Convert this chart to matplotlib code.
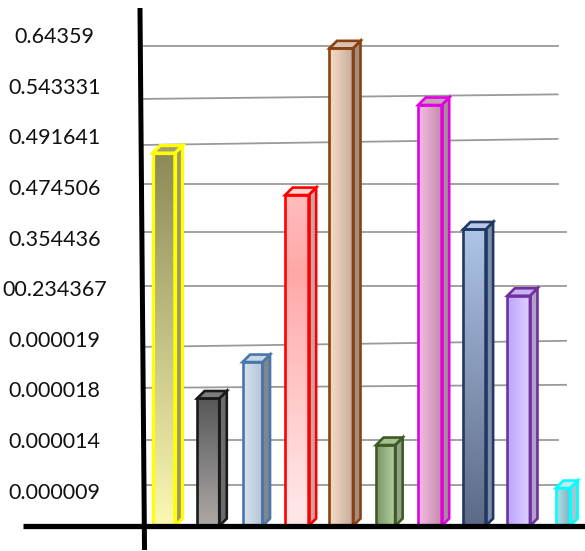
import matplotlib.pyplot as plt
import numpy as np
from matplotlib.colors import LinearSegmentedColormap
from matplotlib.patches import Polygon

# bar heights, in units of one tick-label step
heights = [7.37, 2.52, 3.24, 6.54, 9.44, 1.60, 8.32, 5.86, 4.55, 0.75]
tick_labels = ["0.000009", "0.000014", "0.000018", "0.000019", "00.234367",
               "0.354436", "0.474506", "0.491641", "0.543331", "0.64359"]

# (edge, gradient start, gradient end, gradient direction, side, top)
styles = [
    ("#ffff00", "#8e8a5a", "#faf8b2", "v", "#9c9868", "#a29e76"),
    ("#1a1a1a", "#585858", "#aca8a6", "v", "#6c6c6c", "#7c7c7c"),
    ("#4a76a8", "#d6e4f2", "#b4c2d2", "h", "#7e868e", "#c8d8ea"),
    ("#ff0000", "#ffa8a8", "#ffe6e6", "r", "#c4a6a6", "#ffd4d4"),
    ("#8b4010", "#f8dcc8", "#c4ac9c", "h", "#a08e84", "#d8c2b2"),
    ("#3f5a24", "#7a9468", "#b4d4a0", "h", "#8ea486", "#a2c294"),
    ("#e000e0", "#f4bce6", "#c48caa", "h", "#a48e98", "#c8a2b8"),
    ("#203864", "#aec3e6", "#5c6a86", "v", "#7e8ca6", "#b8c8e8"),
    ("#7030a0", "#bca2ff", "#ddd2ff", "h", "#b0a2c8", "#c8b2f2"),
    ("#00ffff", "#b4e2ea", "#7eb0be", "h", "#a0c6cf", "#c2e8f0"),
]
bar_widths = [0.5, 0.5, 0.45, 0.53, 0.53, 0.43, 0.53, 0.51, 0.51, 0.32]
edge_widths = [2.3, 1.9, 1.9, 1.9, 1.9, 1.9, 1.9, 1.9, 1.9, 1.9]

# slanted horizontal rules: (left y, right y, right x)
rules = [(0.81, 0.81, 8.88), (1.70, 1.70, 8.88), (2.73, 2.79, 9.07),
         (3.54, 3.66, 9.07), (4.74, 4.74, 9.07), (5.81, 5.81, 9.07),
         (6.76, 6.76, 8.88), (7.53, 7.65, 8.88), (8.44, 8.53, 8.88),
         (9.49, 9.49, 8.88)]

fig = plt.figure(figsize=(5.85, 5.51), dpi=100)
ax = fig.add_axes([142 / 585, 25 / 551, 443 / 585, 518 / 551])
ax.set_xlim(-0.4916, 9.497)
ax.set_ylim(0, 10.237)
for s in ax.spines.values():
    s.set_visible(False)
ax.set_xticks([])

ax.set_yticks(np.arange(10) + 0.7)
ax.set_yticklabels(tick_labels, fontfamily="Lato", fontsize=15.5, color="#111111")
ax.tick_params(axis="y", length=0, pad=63)
for t in ax.get_yticklabels():
    t.set_ha("center")

for y0, y1, xe in rules:
    ax.plot([-0.45, xe], [y0, y1], color="#9a9a9a", lw=1.3, zorder=1)

dx, dy = 0.17, 0.148
x = np.arange(len(heights))
bars = ax.bar(x, heights, width=bar_widths, facecolor="none", zorder=3)

t = np.linspace(0, 1, 64)
for i, (b, h) in enumerate(zip(bars, heights)):
    edge, c0, c1, kind, side, top = styles[i]
    lw = edge_widths[i]
    w = b.get_width()
    left, right = b.get_x(), b.get_x() + w
    cmap = LinearSegmentedColormap.from_list("g", [c0, c1])
    # image rows run top to bottom
    if kind == "v":
        grad = t[:, None]
    elif kind == "h":
        grad = t[None, :]
    else:
        grad = np.clip(np.abs(t - 0.23) * 1.4, 0, 1)[:, None]
    im = ax.imshow(grad, cmap=cmap, vmin=0, vmax=1, aspect="auto",
                   extent=(left, right, 0, h), zorder=2.5, interpolation="bilinear")
    im.set_clip_path(b)
    b.set_edgecolor(edge)
    b.set_linewidth(lw)

    side_face = Polygon([(right, 0), (right + dx, dy), (right + dx, h + dy), (right, h)],
                        closed=True, facecolor=side, edgecolor=edge, lw=lw, zorder=2.8)
    top_face = Polygon([(left, h), (right, h), (right + dx, h + dy), (left + dx, h + dy)],
                       closed=True, facecolor=top, edgecolor=edge, lw=lw, zorder=2.8)
    ax.add_patch(side_face)
    ax.add_patch(top_face)

# axis lines, running a little past each other like a cross
ax.plot([-3.175, 9.6], [0, 0], color="black", lw=3.8, clip_on=False, zorder=4,
        solid_capstyle="butt")
ax.plot([-0.537, -0.435], [10.237, -0.474], color="black", lw=3.6, clip_on=False,
        zorder=4, solid_capstyle="butt")

fig.savefig("out.png", dpi=100)
